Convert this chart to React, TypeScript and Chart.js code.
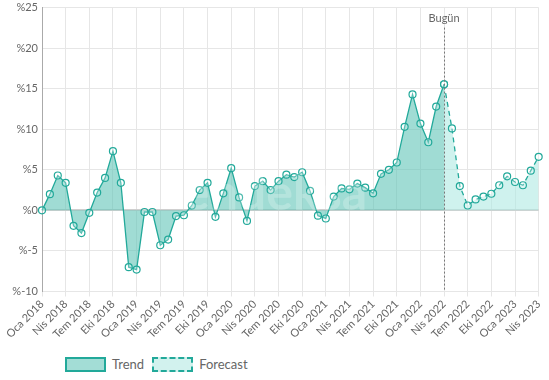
import React, { useEffect, useRef } from "react";
import { Chart, registerables } from "chart.js";

Chart.register(...registerables);

const monthNames = ["Oca", "Şub", "Mar", "Nis", "May", "Haz", "Tem", "Ağu", "Eyl", "Eki", "Kas", "Ara"];
const startYear = 2018;
const monthCount = 64;
const categories: string[] = Array.from({ length: monthCount }, (_, i) => `${monthNames[i % 12]} ${startYear + Math.floor(i / 12)}`);

const trendValues: number[] = [
  0.0, 2.0, 4.3, 3.4, -1.9, -2.8, -0.3, 2.2, 4.0, 7.3, 3.4, -7.0,
  -7.3, -0.2, -0.2, -4.3, -3.6, -0.7, -0.6, 0.6, 2.5, 3.4, -0.8, 2.1,
  5.2, 1.6, -1.3, 3.0, 3.6, 2.5, 3.6, 4.4, 4.1, 4.7, 2.4, -0.65,
  -1.0, 1.7, 2.7, 2.6, 3.3, 2.8, 2.1, 4.5, 5.0, 5.9, 10.3, 14.3,
  10.7, 8.4, 12.8, 15.55,
];

const forecastValues: number[] = [
  15.55, 10.1, 3.0, 0.6, 1.35, 1.7, 2.05, 3.1, 4.2, 3.5, 3.1, 4.9, 6.6,
];

const todayIndex = trendValues.length - 1;
const todayLabel = "Bugün";
const yTicks = [-10, -5, 0, 5, 10, 15, 20, 25];

const FONT = "Lato, 'Noto Sans', sans-serif";
const LINE = "#22a99a";
const TREND_FILL = "rgba(96, 196, 184, 0.6)";
const FORECAST_FILL = "rgba(175, 233, 226, 0.6)";

export default function App() {
  const ref = useRef<HTMLCanvasElement | null>(null);

  useEffect(() => {
    document.body.style.margin = "0";
    const trendData = categories.map((_, i) => (i < trendValues.length ? trendValues[i] : null));
    const forecastData = categories.map((_, i) => (i >= todayIndex ? forecastValues[i - todayIndex] : null));

    const todayPlugin = {
      id: "today",
      afterDatasetsDraw(chart: any) {
        const { ctx, chartArea, scales } = chart;
        const x = scales.x.getPixelForValue(todayIndex);
        ctx.save();
        ctx.font = `bold 50px ${FONT}`;
        ctx.fillStyle = "rgba(255,255,255,0.22)";
        ctx.textAlign = "center";
        ctx.textBaseline = "alphabetic";
        ctx.fillText("endeksa", 275, 213);
        ctx.strokeStyle = "#777";
        ctx.lineWidth = 1;
        ctx.setLineDash([2, 2]);
        ctx.beginPath();
        ctx.moveTo(Math.round(x) + 0.5, chartArea.top + 20);
        ctx.lineTo(Math.round(x) + 0.5, chartArea.bottom);
        ctx.stroke();
        ctx.setLineDash([]);
        ctx.fillStyle = "#666";
        ctx.font = `11px ${FONT}`;
        ctx.textAlign = "center";
        ctx.textBaseline = "middle";
        ctx.fillText(todayLabel, x, chartArea.top + 11);
        ctx.restore();
      },
    };

    const chart = new Chart(ref.current as HTMLCanvasElement, {
      type: "line",
      data: {
        labels: categories,
        datasets: [
          {
            label: "Trend",
            data: trendData,
            borderColor: LINE,
            borderWidth: 1.3,
            backgroundColor: TREND_FILL,
            fill: "origin",
            tension: 0,
            pointRadius: 3.5,
            pointBorderWidth: 1.2,
            pointBorderColor: LINE,
            pointBackgroundColor: "rgba(255,255,255,0.25)",
            spanGaps: false,
          },
          {
            label: "Forecast",
            data: forecastData,
            borderColor: LINE,
            borderWidth: 1.3,
            borderDash: [5, 4],
            backgroundColor: FORECAST_FILL,
            fill: "origin",
            tension: 0,
            pointRadius: 3.5,
            pointBorderWidth: 1.2,
            pointBorderColor: LINE,
            pointBackgroundColor: "rgba(255,255,255,0.25)",
          },
        ],
      },
      options: {
        animation: false,
        responsive: false,
        maintainAspectRatio: false,
        layout: { padding: { top: 0, right: 0, left: 0, bottom: 0 } },
        plugins: {
          legend: { display: false },
          tooltip: { enabled: false },
        },
        scales: {
          x: {
            type: "category",
            grid: { color: "#e6e6e6", tickLength: 5, drawTicks: true },
            border: { color: "#e6e6e6" },
            ticks: {
              autoSkip: false,
              maxRotation: 45,
              minRotation: 45,
              color: "#666",
              font: { family: FONT, size: 11 },
              padding: 1,
              callback: (_v: any, i: number) => (i % 3 === 0 ? categories[i] : null),
            },
          },
          y: {
            min: -10,
            max: 25,
            afterBuildTicks: (scale: any) => {
              scale.ticks = yTicks.map((v) => ({ value: v }));
            },
            afterFit: (scale: any) => {
              scale.width = 42;
            },
            grid: {
              color: (c: any) => (c.tick && c.tick.value === 0 ? "#cfcfcf" : "#e6e6e6"),
              lineWidth: (c: any) => (c.tick && c.tick.value === 0 ? 2 : 1),
              drawTicks: false,
            },
            border: { color: "#aaa" },
            ticks: {
              color: "#666",
              font: { family: FONT, size: 11 },
              padding: 4,
              callback: (v: any) => `%${v}`,
            },
          },
        },
      },
      plugins: [todayPlugin],
    } as any);
    return () => chart.destroy();
  }, []);

  const legendText: React.CSSProperties = { fontFamily: FONT, fontSize: 13, color: "#666", marginLeft: 6, marginRight: 8 };

  return (
    <div style={{ position: "relative", width: 549, height: 380, background: "#fff", overflow: "hidden" }}>
      <canvas ref={ref} width={549} height={345} style={{ display: "block", width: 549, height: 345, position: "absolute", left: 0, top: -3 }} />
      <div style={{ position: "absolute", left: 65, top: 356, display: "flex", alignItems: "center" }}>
        <span style={{ display: "inline-block", width: 37, height: 11, background: "#a3ddd6", border: `2px solid ${LINE}` }} />
        <span style={legendText}>Trend</span>
        <span style={{ display: "inline-block", width: 37, height: 11, background: "#d2f2ee", border: `2px dashed ${LINE}` }} />
        <span style={legendText}>Forecast</span>
      </div>
    </div>
  );
}
